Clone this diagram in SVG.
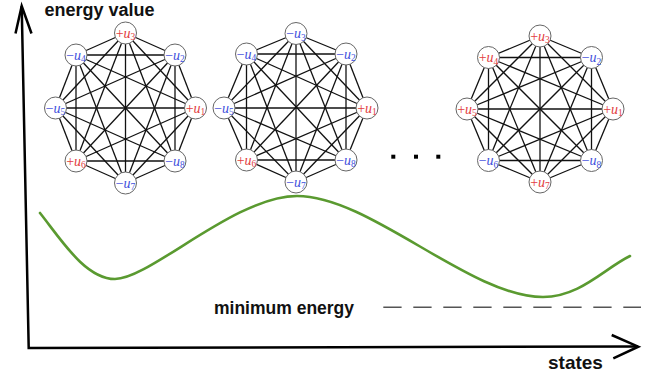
<svg xmlns="http://www.w3.org/2000/svg" width="650" height="377" viewBox="0 0 650 377">
  <style>
    .edge { stroke: #111; stroke-width: 1.3; }
    .node circle { fill: #fff; stroke: #666; stroke-width: 1; }
    .lbl { font-family: "Liberation Serif", "DejaVu Serif", serif; font-size: 14px; text-anchor: middle; }
    .lbl .v { font-style: italic; }
    .lbl .s { font-size: 9.5px; }
    .pos { fill: #e23d3f; }
    .neg { fill: #3f50dc; }
    .axis { fill: none; stroke: #000; stroke-width: 2.5; stroke-linejoin: miter; }
    .title { font-family: "Liberation Sans", Arial, sans-serif; font-weight: bold; fill: #111; }
  </style>

  <!-- axes -->
  <g id="axes">
    <path class="axis" d="M21.7,6 L28.7,348 L638,346.5"/>
    <path class="axis" d="M15.5,33.5 L21.7,6 L31.5,33.5"/>
    <path class="axis" d="M611.7,335 L638.3,346.7 L613.3,358.3"/>
  </g>
  <text class="title" x="44.5" y="16" font-size="18">energy value</text>
  <text class="title" x="548" y="368.5" font-size="19">states</text>
  <text class="title" x="214" y="313.5" font-size="17.5">minimum energy</text>

  <!-- minimum energy level -->
  <line x1="383.3" y1="307.3" x2="641" y2="307.3" stroke="#555" stroke-width="1.5" stroke-dasharray="18.3 11.7"/>

  <!-- energy landscape -->
  <path d="M40,213 C60,238 85,279 115,279 C150,279 235,196 297,196 C370,196 470,297 543,297 C580,297 605,268 630,256" fill="none" stroke="#5a9a30" stroke-width="2.6" stroke-linecap="round"/>

  <!-- ellipsis between states -->
  <g id="ellipsis" fill="#000">
    <rect x="391.3" y="154.7" width="4" height="4"/>
    <rect x="414" y="154.7" width="4" height="4"/>
    <rect x="436.3" y="154.7" width="4" height="4"/>
  </g>

  <!-- state A -->
  <g id="stateA">
    <g id="stateA-connectors" class="edge">
      <line x1="195.5" y1="108" x2="175" y2="55"/>
      <line x1="195.5" y1="108" x2="125.5" y2="33"/>
      <line x1="195.5" y1="108" x2="76" y2="55"/>
      <line x1="195.5" y1="108" x2="55.5" y2="108"/>
      <line x1="195.5" y1="108" x2="76" y2="161"/>
      <line x1="195.5" y1="108" x2="125.5" y2="183"/>
      <line x1="195.5" y1="108" x2="175" y2="161"/>
      <line x1="175" y1="55" x2="125.5" y2="33"/>
      <line x1="175" y1="55" x2="76" y2="55"/>
      <line x1="175" y1="55" x2="55.5" y2="108"/>
      <line x1="175" y1="55" x2="76" y2="161"/>
      <line x1="175" y1="55" x2="125.5" y2="183"/>
      <line x1="175" y1="55" x2="175" y2="161"/>
      <line x1="125.5" y1="33" x2="76" y2="55"/>
      <line x1="125.5" y1="33" x2="55.5" y2="108"/>
      <line x1="125.5" y1="33" x2="76" y2="161"/>
      <line x1="125.5" y1="33" x2="125.5" y2="183"/>
      <line x1="125.5" y1="33" x2="175" y2="161"/>
      <line x1="76" y1="55" x2="55.5" y2="108"/>
      <line x1="76" y1="55" x2="76" y2="161"/>
      <line x1="76" y1="55" x2="125.5" y2="183"/>
      <line x1="76" y1="55" x2="175" y2="161"/>
      <line x1="55.5" y1="108" x2="76" y2="161"/>
      <line x1="55.5" y1="108" x2="125.5" y2="183"/>
      <line x1="55.5" y1="108" x2="175" y2="161"/>
      <line x1="76" y1="161" x2="125.5" y2="183"/>
      <line x1="76" y1="161" x2="175" y2="161"/>
      <line x1="125.5" y1="183" x2="175" y2="161"/>
    </g>
    <g id="stateA-u1" class="node"><circle cx="195.5" cy="108" r="11"/><text class="lbl pos" x="195.5" y="112.5">+<tspan class="v">u</tspan><tspan class="s" dy="2.5">1</tspan></text></g>
    <g id="stateA-u2" class="node"><circle cx="175" cy="55" r="11"/><text class="lbl neg" x="175" y="59.5">−<tspan class="v">u</tspan><tspan class="s" dy="2.5">2</tspan></text></g>
    <g id="stateA-u3" class="node"><circle cx="125.5" cy="33" r="11"/><text class="lbl pos" x="125.5" y="37.5">+<tspan class="v">u</tspan><tspan class="s" dy="2.5">3</tspan></text></g>
    <g id="stateA-u4" class="node"><circle cx="76" cy="55" r="11"/><text class="lbl neg" x="76" y="59.5">−<tspan class="v">u</tspan><tspan class="s" dy="2.5">4</tspan></text></g>
    <g id="stateA-u5" class="node"><circle cx="55.5" cy="108" r="11"/><text class="lbl neg" x="55.5" y="112.5">−<tspan class="v">u</tspan><tspan class="s" dy="2.5">5</tspan></text></g>
    <g id="stateA-u6" class="node"><circle cx="76" cy="161" r="11"/><text class="lbl pos" x="76" y="165.5">+<tspan class="v">u</tspan><tspan class="s" dy="2.5">6</tspan></text></g>
    <g id="stateA-u7" class="node"><circle cx="125.5" cy="183" r="11"/><text class="lbl neg" x="125.5" y="187.5">−<tspan class="v">u</tspan><tspan class="s" dy="2.5">7</tspan></text></g>
    <g id="stateA-u8" class="node"><circle cx="175" cy="161" r="11"/><text class="lbl neg" x="175" y="165.5">−<tspan class="v">u</tspan><tspan class="s" dy="2.5">8</tspan></text></g>
  </g>

  <!-- state B -->
  <g id="stateB">
    <g id="stateB-connectors" class="edge">
      <line x1="367" y1="108" x2="346" y2="54"/>
      <line x1="367" y1="108" x2="296" y2="33.5"/>
      <line x1="367" y1="108" x2="246.5" y2="54"/>
      <line x1="367" y1="108" x2="224" y2="108"/>
      <line x1="367" y1="108" x2="246.5" y2="160"/>
      <line x1="367" y1="108" x2="296" y2="182"/>
      <line x1="367" y1="108" x2="346" y2="160"/>
      <line x1="346" y1="54" x2="296" y2="33.5"/>
      <line x1="346" y1="54" x2="246.5" y2="54"/>
      <line x1="346" y1="54" x2="224" y2="108"/>
      <line x1="346" y1="54" x2="246.5" y2="160"/>
      <line x1="346" y1="54" x2="296" y2="182"/>
      <line x1="346" y1="54" x2="346" y2="160"/>
      <line x1="296" y1="33.5" x2="246.5" y2="54"/>
      <line x1="296" y1="33.5" x2="224" y2="108"/>
      <line x1="296" y1="33.5" x2="246.5" y2="160"/>
      <line x1="296" y1="33.5" x2="296" y2="182"/>
      <line x1="296" y1="33.5" x2="346" y2="160"/>
      <line x1="246.5" y1="54" x2="224" y2="108"/>
      <line x1="246.5" y1="54" x2="246.5" y2="160"/>
      <line x1="246.5" y1="54" x2="296" y2="182"/>
      <line x1="246.5" y1="54" x2="346" y2="160"/>
      <line x1="224" y1="108" x2="246.5" y2="160"/>
      <line x1="224" y1="108" x2="296" y2="182"/>
      <line x1="224" y1="108" x2="346" y2="160"/>
      <line x1="246.5" y1="160" x2="296" y2="182"/>
      <line x1="246.5" y1="160" x2="346" y2="160"/>
      <line x1="296" y1="182" x2="346" y2="160"/>
    </g>
    <g id="stateB-u1" class="node"><circle cx="367" cy="108" r="11"/><text class="lbl pos" x="367" y="112.5">+<tspan class="v">u</tspan><tspan class="s" dy="2.5">1</tspan></text></g>
    <g id="stateB-u2" class="node"><circle cx="346" cy="54" r="11"/><text class="lbl neg" x="346" y="58.5">−<tspan class="v">u</tspan><tspan class="s" dy="2.5">2</tspan></text></g>
    <g id="stateB-u3" class="node"><circle cx="296" cy="33.5" r="11"/><text class="lbl neg" x="296" y="38">−<tspan class="v">u</tspan><tspan class="s" dy="2.5">3</tspan></text></g>
    <g id="stateB-u4" class="node"><circle cx="246.5" cy="54" r="11"/><text class="lbl neg" x="246.5" y="58.5">−<tspan class="v">u</tspan><tspan class="s" dy="2.5">4</tspan></text></g>
    <g id="stateB-u5" class="node"><circle cx="224" cy="108" r="11"/><text class="lbl neg" x="224" y="112.5">−<tspan class="v">u</tspan><tspan class="s" dy="2.5">5</tspan></text></g>
    <g id="stateB-u6" class="node"><circle cx="246.5" cy="160" r="11"/><text class="lbl pos" x="246.5" y="164.5">+<tspan class="v">u</tspan><tspan class="s" dy="2.5">6</tspan></text></g>
    <g id="stateB-u7" class="node"><circle cx="296" cy="182" r="11"/><text class="lbl neg" x="296" y="186.5">−<tspan class="v">u</tspan><tspan class="s" dy="2.5">7</tspan></text></g>
    <g id="stateB-u8" class="node"><circle cx="346" cy="160" r="11"/><text class="lbl neg" x="346" y="164.5">−<tspan class="v">u</tspan><tspan class="s" dy="2.5">8</tspan></text></g>
  </g>

  <!-- state C -->
  <g id="stateC">
    <g id="stateC-connectors" class="edge">
      <line x1="613" y1="109" x2="591.5" y2="57.5"/>
      <line x1="613" y1="109" x2="540" y2="36"/>
      <line x1="613" y1="109" x2="488.5" y2="57.5"/>
      <line x1="613" y1="109" x2="467" y2="109"/>
      <line x1="613" y1="109" x2="488.5" y2="160.5"/>
      <line x1="613" y1="109" x2="540" y2="182"/>
      <line x1="613" y1="109" x2="591.5" y2="160.5"/>
      <line x1="591.5" y1="57.5" x2="540" y2="36"/>
      <line x1="591.5" y1="57.5" x2="488.5" y2="57.5"/>
      <line x1="591.5" y1="57.5" x2="467" y2="109"/>
      <line x1="591.5" y1="57.5" x2="488.5" y2="160.5"/>
      <line x1="591.5" y1="57.5" x2="540" y2="182"/>
      <line x1="591.5" y1="57.5" x2="591.5" y2="160.5"/>
      <line x1="540" y1="36" x2="488.5" y2="57.5"/>
      <line x1="540" y1="36" x2="467" y2="109"/>
      <line x1="540" y1="36" x2="488.5" y2="160.5"/>
      <line x1="540" y1="36" x2="540" y2="182"/>
      <line x1="540" y1="36" x2="591.5" y2="160.5"/>
      <line x1="488.5" y1="57.5" x2="467" y2="109"/>
      <line x1="488.5" y1="57.5" x2="488.5" y2="160.5"/>
      <line x1="488.5" y1="57.5" x2="540" y2="182"/>
      <line x1="488.5" y1="57.5" x2="591.5" y2="160.5"/>
      <line x1="467" y1="109" x2="488.5" y2="160.5"/>
      <line x1="467" y1="109" x2="540" y2="182"/>
      <line x1="467" y1="109" x2="591.5" y2="160.5"/>
      <line x1="488.5" y1="160.5" x2="540" y2="182"/>
      <line x1="488.5" y1="160.5" x2="591.5" y2="160.5"/>
      <line x1="540" y1="182" x2="591.5" y2="160.5"/>
    </g>
    <g id="stateC-u1" class="node"><circle cx="613" cy="109" r="11"/><text class="lbl pos" x="613" y="113.5">+<tspan class="v">u</tspan><tspan class="s" dy="2.5">1</tspan></text></g>
    <g id="stateC-u2" class="node"><circle cx="591.5" cy="57.5" r="11"/><text class="lbl neg" x="591.5" y="62">−<tspan class="v">u</tspan><tspan class="s" dy="2.5">2</tspan></text></g>
    <g id="stateC-u3" class="node"><circle cx="540" cy="36" r="11"/><text class="lbl pos" x="540" y="40.5">+<tspan class="v">u</tspan><tspan class="s" dy="2.5">3</tspan></text></g>
    <g id="stateC-u4" class="node"><circle cx="488.5" cy="57.5" r="11"/><text class="lbl pos" x="488.5" y="62">+<tspan class="v">u</tspan><tspan class="s" dy="2.5">4</tspan></text></g>
    <g id="stateC-u5" class="node"><circle cx="467" cy="109" r="11"/><text class="lbl pos" x="467" y="113.5">+<tspan class="v">u</tspan><tspan class="s" dy="2.5">5</tspan></text></g>
    <g id="stateC-u6" class="node"><circle cx="488.5" cy="160.5" r="11"/><text class="lbl neg" x="488.5" y="165">−<tspan class="v">u</tspan><tspan class="s" dy="2.5">6</tspan></text></g>
    <g id="stateC-u7" class="node"><circle cx="540" cy="182" r="11"/><text class="lbl pos" x="540" y="186.5">+<tspan class="v">u</tspan><tspan class="s" dy="2.5">7</tspan></text></g>
    <g id="stateC-u8" class="node"><circle cx="591.5" cy="160.5" r="11"/><text class="lbl neg" x="591.5" y="165">−<tspan class="v">u</tspan><tspan class="s" dy="2.5">8</tspan></text></g>
  </g>
</svg>
